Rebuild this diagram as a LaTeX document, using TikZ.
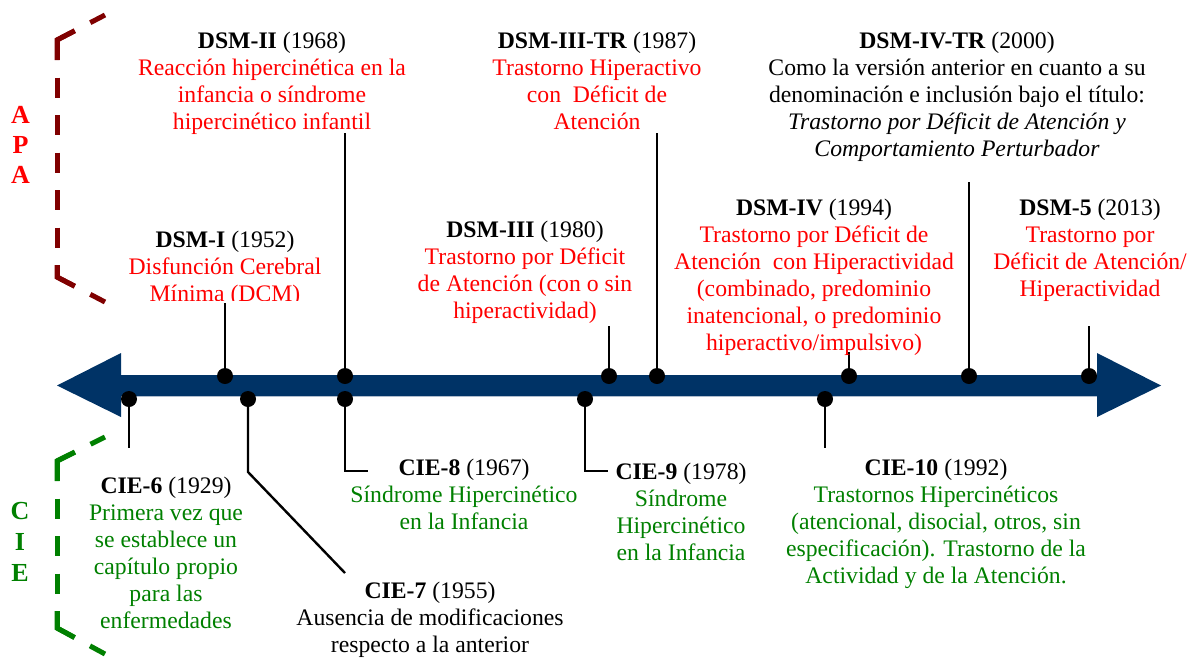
\documentclass[tikz,border=0pt]{standalone}
\usepackage{fontspec}
\setmainfont{Liberation Serif}
\definecolor{flecha}{RGB}{0,51,102}
\definecolor{sombra}{RGB}{175,188,205}
\definecolor{rojo}{RGB}{255,0,0}
\definecolor{verde}{RGB}{0,128,0}
\definecolor{granate}{RGB}{128,0,0}
\begin{document}
\begin{tikzpicture}[x=1pt,y=-1pt,
  % multi-line blocks are placed by the baseline of their last line
  txt/.style={align=center, anchor=base, inner sep=0pt,
              font=\fontsize{23.7}{27}\selectfont},
  apa/.style={txt, text=rojo},
  cie/.style={txt, text=verde},
  neutro/.style={txt, text=black},
  hito/.style={circle, fill=black, minimum size=16pt, inner sep=0pt},
  enlace/.style={line width=2.4pt, draw=black},
  llave/.style={line width=5pt, dash pattern=on 20pt off 17.5pt},
  esquina/.style={line width=5pt, miter limit=10},
  letra/.style={font=\fontsize{26}{30}\selectfont\bfseries, anchor=base, inner sep=0pt}]

\useasboundingbox (0,0) rectangle (1190,659);

% ---- positions of the milestones on the time line
\coordinate (pDSMI)     at (225,376);
\coordinate (pDSMII)    at (345,376);
\coordinate (pDSMIII)   at (609,376);
\coordinate (pDSMIIITR) at (657,376);
\coordinate (pDSMIV)    at (849,376);
\coordinate (pDSMIVTR)  at (969,376);
\coordinate (pDSMV)     at (1089,376);
\coordinate (pCIEVI)    at (129,399);
\coordinate (pCIEVII)   at (248,399);
\coordinate (pCIEVIII)  at (345,399);
\coordinate (pCIEIX)    at (585,399);
\coordinate (pCIEX)     at (825,399);

% ---- free ends of the connectors
\coordinate (eDSMI)     at (225,303);
\coordinate (eDSMII)    at (345,133);
\coordinate (eDSMIII)   at (609,326);
\coordinate (eDSMIIITR) at (657,133);
\coordinate (eDSMIV)    at (849,352);
\coordinate (eDSMIVTR)  at (969,182);
\coordinate (eDSMV)     at (1089,326);
\coordinate (eCIEVI)    at (129,448);
\coordinate (kCIEVII)   at (248,472);
\coordinate (eCIEVII)   at (345,573);
\coordinate (kCIEVIII)  at (345,471);
\coordinate (eCIEVIII)  at (368,471);
\coordinate (kCIEIX)    at (585,471);
\coordinate (eCIEIX)    at (608,471);
\coordinate (eCIEX)     at (825,448);

% ---- double-headed time arrow
\fill[flecha] (57,385.5) -- (121,353) -- (121,375) -- (1097,375) -- (1097,353)
  -- (1161,385.5) -- (1097,417) -- (1097,396) -- (121,396) -- (121,417) -- cycle;
\draw[sombra, line width=1pt] (121,396.5) -- (1097,396.5);

% ---- connectors
\draw[enlace] (pDSMI) -- (eDSMI);
\draw[enlace] (pDSMII) -- (eDSMII);
\draw[enlace] (pDSMIII) -- (eDSMIII);
\draw[enlace] (pDSMIIITR) -- (eDSMIIITR);
\draw[enlace] (pDSMIV) -- (eDSMIV);
\draw[enlace] (pDSMIVTR) -- (eDSMIVTR);
\draw[enlace] (pDSMV) -- (eDSMV);
\draw[enlace] (pCIEVI) -- (eCIEVI);
\draw[enlace] (pCIEVII) -- (kCIEVII) -- (eCIEVII);
\draw[enlace] (pCIEVIII) -- (kCIEVIII) -- (eCIEVIII);
\draw[enlace] (pCIEIX) -- (kCIEIX) -- (eCIEIX);
\draw[enlace] (pCIEX) -- (eCIEX);

% ---- milestone dots
\foreach \h in {DSMI,DSMII,DSMIII,DSMIIITR,DSMIV,DSMIVTR,DSMV,CIEVI,CIEVII,CIEVIII,CIEIX,CIEX}
  \node[hito] (d\h) at (p\h) {};

% ---- APA editions (above the line)
\begin{scope}
  \clip (90,200) rectangle (360,300.5);
  \node[apa] (tDSMI) at (225,301.5)
    {{\color{black}\textbf{DSM-I} (1952)}\\Disfunción Cerebral\\Mínima (DCM)};
\end{scope}
\node[apa] (tDSMII) at (272,129)
  {{\color{black}\textbf{DSM-II} (1968)}\\Reacción hipercinética en la\\infancia o síndrome\\hipercinético infantil};
\node[apa] (tDSMIII) at (525,318)
  {{\color{black}\textbf{DSM-III} (1980)}\\Trastorno por Déficit\\de Atención (con o sin\\hiperactividad)};
\node[apa] (tDSMIIITR) at (597,129)
  {{\color{black}\textbf{DSM-III-TR} (1987)}\\Trastorno Hiperactivo\\con\ \ Déficit de\\Atención};
\node[apa] (tDSMIV) at (814,350)
  {{\color{black}\textbf{DSM-IV} (1994)}\\Trastorno por Déficit de\\Atención\ \ con Hiperactividad\\(combinado, predominio\\inatencional, o predominio\\hiperactivo/impulsivo)};
\node[neutro] (tDSMIVTR) at (957,156)
  {\textbf{DSM-IV-TR} (2000)\\Como la versión anterior en cuanto a su\\denominación e inclusión bajo el título:\\\textit{Trastorno por Déficit de Atención y}\\\textit{Comportamiento Perturbador}};
\node[apa] (tDSMV) at (1090,296)
  {{\color{black}\textbf{DSM-5} (2013)}\\Trastorno por\\Déficit de Atención/\\Hiperactividad};

% ---- CIE editions (below the line)
\node[cie] (tCIEVI) at (166,628)
  {{\color{black}\textbf{CIE-6} (1929)}\\Primera vez que\\se establece un\\capítulo propio\\para las\\enfermedades};
\node[neutro] (tCIEVII) at (430,652)
  {\textbf{CIE-7} (1955)\\Ausencia de modificaciones\\respecto a la anterior};
\node[cie] (tCIEVIII) at (464,529)
  {{\color{black}\textbf{CIE-8} (1967)}\\Síndrome Hipercinético\\en la Infancia};
\node[cie] (tCIEIX) at (681,560)
  {{\color{black}\textbf{CIE-9} (1978)}\\Síndrome\\Hipercinético\\en la Infancia};
\node[cie] (tCIEX) at (936,583)
  {{\color{black}\textbf{CIE-10} (1992)}\\Trastornos Hipercinéticos\\(atencional, disocial, otros, sin\\especificación). Trastorno de la\\Actividad y de la Atención.};

% ---- APA bracket
\coordinate (apaA) at (105,15);
\coordinate (apaB) at (57,40);
\coordinate (apaC) at (57,277);
\coordinate (apaD) at (105,302);
\draw[llave, granate] (apaB) -- (apaA);
\draw[llave, granate] (apaB) -- (apaC);
\draw[llave, granate] (apaC) -- (apaD);
\draw[esquina, granate] (74.7,30.8) -- (apaB) -- (57,60);
\draw[esquina, granate] (57,265) -- (apaC) -- (74.7,286.2);
\node[letra, text=rojo] (apa1) at (20.5,123) {A};
\node[letra, text=rojo] (apa2) at (20.5,153) {P};
\node[letra, text=rojo] (apa3) at (20.5,183) {A};

% ---- CIE bracket
\coordinate (cieA) at (105,437);
\coordinate (cieB) at (57,461);
\coordinate (cieC) at (57,628);
\coordinate (cieD) at (105,654);
\draw[llave, verde] (cieB) -- (cieA);
\draw[llave, verde] (cieB) -- (cieC);
\draw[llave, verde] (cieC) -- (cieD);
\draw[esquina, verde] (74.9,452.1) -- (cieB) -- (57,481);
\draw[esquina, verde] (57,611) -- (cieC) -- (74.6,637.5);
\node[letra, text=verde] (cie1) at (20,519) {C};
\node[letra, text=verde] (cie2) at (20,550) {I};
\node[letra, text=verde] (cie3) at (20,581) {E};
\end{tikzpicture}
\end{document}
